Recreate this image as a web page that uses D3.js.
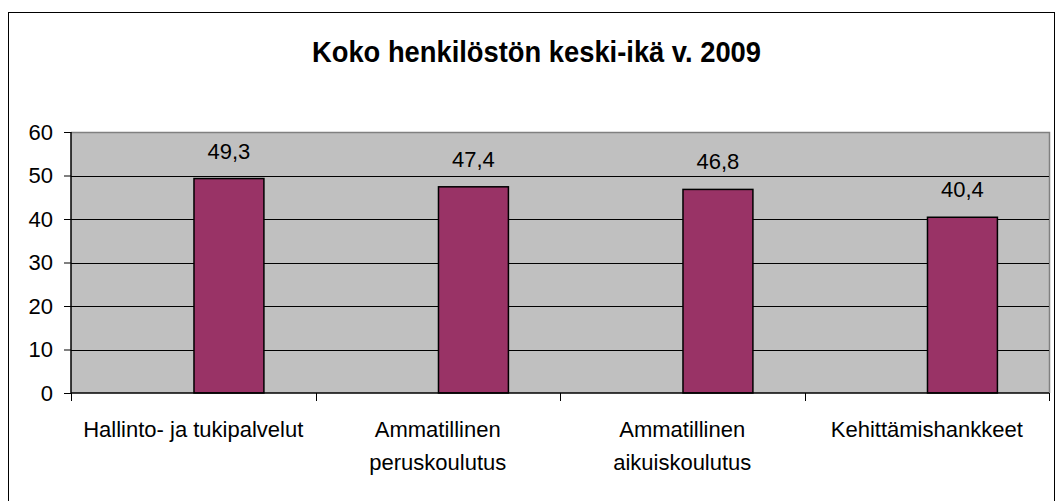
<!DOCTYPE html>
<html>
<head>
<meta charset="utf-8">
<script src="https://cdn.jsdelivr.net/npm/d3@7"></script>
<style>
body { margin: 0; background: #fff; }
svg { display: block; font-family: "Liberation Sans", Arial, sans-serif; }
</style>
</head>
<body>
<svg id="chart" width="1059" height="501"></svg>
<script>
var title = "Koko henkilöstön keski-ikä v. 2009";
var categories = ["Hallinto- ja tukipalvelut", "Ammatillinen peruskoulutus", "Ammatillinen aikuiskoulutus", "Kehittämishankkeet"];
var labelLines = [["Hallinto- ja tukipalvelut"], ["Ammatillinen", "peruskoulutus"], ["Ammatillinen", "aikuiskoulutus"], ["Kehittämishankkeet"]];
var values = [49.3, 47.4, 46.8, 40.4];
var valueLabels = ["49,3", "47,4", "46,8", "40,4"];
var yTicks = [0, 10, 20, 30, 40, 50, 60];

var svg = d3.select("#chart");
var plotLeft = 71, plotRight = 1049, plotTop = 132, plotBottom = 393;

// outer frame
svg.append("rect")
	.attr("x", 8.5).attr("y", 12.5)
	.attr("width", 1046).attr("height", 520)
	.attr("fill", "none").attr("stroke", "#000").attr("stroke-width", 1);

svg.append("text")
	.attr("x", 536.5).attr("y", 62)
	.attr("text-anchor", "middle")
	.attr("font-size", 29).attr("font-weight", "bold")
	.attr("textLength", 449).attr("lengthAdjust", "spacingAndGlyphs")
	.text(title);

var x = d3.scaleBand().domain(categories).range([plotLeft, plotRight]);
var y = d3.scaleLinear().domain([0, 60]).range([plotBottom, plotTop]);

// plot area
svg.append("rect")
	.attr("x", plotLeft).attr("y", plotTop)
	.attr("width", plotRight - plotLeft).attr("height", plotBottom - plotTop)
	.attr("fill", "#c0c0c0");
svg.append("path")
	.attr("d", "M" + plotLeft + "," + (plotTop + 0.5) + "H" + (plotRight + 0.5) + "V" + plotBottom)
	.attr("fill", "none").attr("stroke", "#808080").attr("stroke-width", 1.5);

// gridlines
svg.selectAll(".grid")
	.data(yTicks.filter(d => d > 0 && d < 60))
	.enter().append("line")
	.attr("x1", plotLeft).attr("x2", plotRight)
	.attr("y1", d => Math.round(y(d)) + 0.5).attr("y2", d => Math.round(y(d)) + 0.5)
	.attr("stroke", "#000").attr("stroke-width", 1);

// bars
var bw = x.bandwidth();
svg.selectAll(".bar")
	.data(values)
	.enter().append("rect")
	.attr("x", (d, i) => x(categories[i]) + bw * 0.503)
	.attr("y", d => y(d))
	.attr("width", bw * 0.286)
	.attr("height", d => y(0) - y(d))
	.attr("fill", "#993366")
	.attr("stroke", "#000").attr("stroke-width", 1.5);

svg.selectAll(".vlabel")
	.data(values)
	.enter().append("text")
	.attr("x", (d, i) => x(categories[i]) + bw * 0.646)
	.attr("y", d => y(d) - 20)
	.attr("text-anchor", "middle")
	.attr("font-size", 22)
	.attr("fill", "#000")
	.text((d, i) => valueLabels[i]);

// y axis
var yAxis = svg.append("g")
	.attr("transform", "translate(" + plotLeft + ",0)")
	.call(d3.axisLeft(y).tickValues(yTicks).tickSize(7).tickPadding(11));
yAxis.select(".domain").attr("stroke", "#000").attr("stroke-width", 1.5).attr("d", "M0," + plotTop + "V" + plotBottom);
yAxis.selectAll(".tick line").attr("stroke", "#000");
yAxis.selectAll("text").attr("font-size", 22).attr("font-family", "Liberation Sans, Arial, sans-serif").attr("fill", "#000");

// x axis
var xAxis = svg.append("g")
	.attr("transform", "translate(0," + plotBottom + ")")
	.call(d3.axisBottom(x).tickSize(0).tickFormat(""));
xAxis.select(".domain").attr("stroke", "#000").attr("stroke-width", 1.5).attr("d", "M" + plotLeft + ",0H" + plotRight);
var xTickPos = categories.map(c => x(c)).concat([plotRight]);
svg.selectAll(".xtick")
	.data(xTickPos)
	.enter().append("line")
	.attr("x1", d => Math.round(d) + 0.5).attr("x2", d => Math.round(d) + 0.5)
	.attr("y1", plotBottom).attr("y2", plotBottom + 8)
	.attr("stroke", "#000");

var lbl = svg.selectAll(".xlabel")
	.data(labelLines)
	.enter().append("text")
	.attr("text-anchor", "middle")
	.attr("font-size", 22)
	.attr("fill", "#000");
lbl.selectAll("tspan")
	.data((d, i) => d.map(t => ({ t: t, i: i })))
	.enter().append("tspan")
	.attr("x", d => x(categories[d.i]) + bw / 2)
	.attr("y", (d, j) => 437 + j * 33)
	.text(d => d.t);
</script>
</body>
</html>
